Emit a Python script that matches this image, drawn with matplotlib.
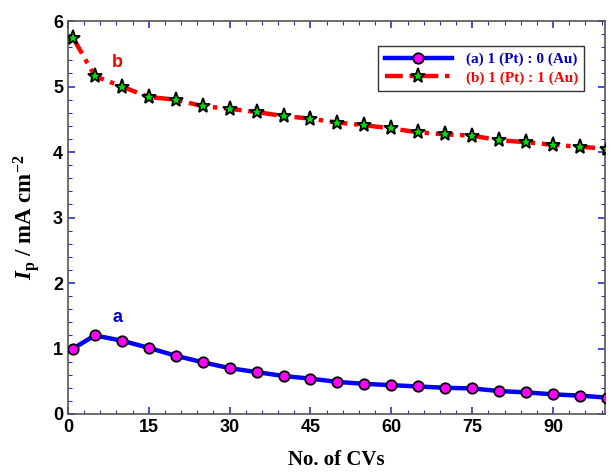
import matplotlib
matplotlib.use("Agg")
import matplotlib.pyplot as plt
from matplotlib.ticker import MultipleLocator

# 数据：循环次数与峰电流
cycles = [1, 5, 10, 15, 20, 25, 30, 35, 40, 45, 50,
          55, 60, 65, 70, 75, 80, 85, 90, 95, 100]
ip_a = [1.00, 1.20, 1.12, 1.01, 0.89, 0.79, 0.70, 0.64, 0.58, 0.54, 0.49,
        0.46, 0.44, 0.42, 0.40, 0.39, 0.35, 0.33, 0.30, 0.28, 0.25]
ip_b = [5.74, 5.16, 5.00, 4.84, 4.80, 4.70, 4.66, 4.61, 4.55, 4.51, 4.45,
        4.41, 4.36, 4.30, 4.27, 4.25, 4.18, 4.15, 4.11, 4.08, 4.05]
labels = ["(a) 1 (Pt) : 0 (Au)", "(b) 1 (Pt) : 1 (Au)"]
xticks = [0, 15, 30, 45, 60, 75, 90]

plt.rcParams["mathtext.fontset"] = "custom"
plt.rcParams["mathtext.rm"] = "Liberation Serif:bold"
plt.rcParams["mathtext.it"] = "Liberation Serif:bold:italic"
plt.rcParams["mathtext.bf"] = "Liberation Serif:bold"

fig = plt.figure(figsize=(6.11, 4.74), dpi=100)
ax = fig.add_axes([0.111, 0.1266, 0.879, 0.829])

ax.plot(cycles, ip_a, color="#0000ff", lw=3.2, marker="o", ms=7.5,
        mfc="#ff00ff", mec="black", mew=1.3, label=labels[0], zorder=3)
ax.plot(cycles, ip_b, color="#ff0000", lw=3.2, ls=(0, (4, 1.5, 1, 1.5)),
        marker="*", ms=11, mfc="#00dd00", mec="black", mew=1.3,
        label=labels[1], zorder=3)

ax.text(9.2, 1.47, "a", color="#0000cc", fontsize=13, fontweight="bold",
        family="Liberation Sans", ha="center", va="center")
ax.text(9.2, 5.36, "b", color="#ff0000", fontsize=13, fontweight="bold",
        family="Liberation Sans", ha="center", va="center")

ax.set_xlim(0, 99.6)
ax.set_ylim(0, 6)
ax.set_xticks(xticks)
ax.xaxis.set_minor_locator(MultipleLocator(3))
ax.yaxis.set_major_locator(MultipleLocator(1))
ax.yaxis.set_minor_locator(MultipleLocator(0.2))
ax.tick_params(which="both", direction="in", top=True, right=True,
               color="#2233cc")
ax.tick_params(which="major", length=5, width=1.2)
ax.tick_params(which="minor", length=3, width=0.8)
for lab in ax.get_xticklabels() + ax.get_yticklabels():
    lab.set_family("Liberation Sans")
    lab.set_fontweight("bold")
    lab.set_fontsize(13)
for sp in ax.spines.values():
    sp.set_color("#555555")
    sp.set_linewidth(1.2)

ax.set_xlabel("No. of CVs", family="Liberation Serif", fontweight="bold",
              fontsize=15, labelpad=10)
ax.set_ylabel(r"$I_\mathrm{p}$ / mA cm$^{\mathbf{-2}}$",
              family="Liberation Serif", fontweight="bold", fontsize=16.5,
              labelpad=8)

leg = ax.legend(loc="upper right", bbox_to_anchor=(0.961, 0.936),
                borderaxespad=0,
                prop={"family": "Liberation Serif", "weight": "bold", "size": 11},
                frameon=True, fancybox=False, edgecolor="black",
                handlelength=4.4, borderpad=0.4, labelspacing=0.3,
                handletextpad=0.9)
leg.get_frame().set_linewidth(1.0)
for txt, c in zip(leg.get_texts(), ["#0000cc", "#ff0000"]):
    txt.set_color(c)

fig.savefig("out.png", dpi=100)
